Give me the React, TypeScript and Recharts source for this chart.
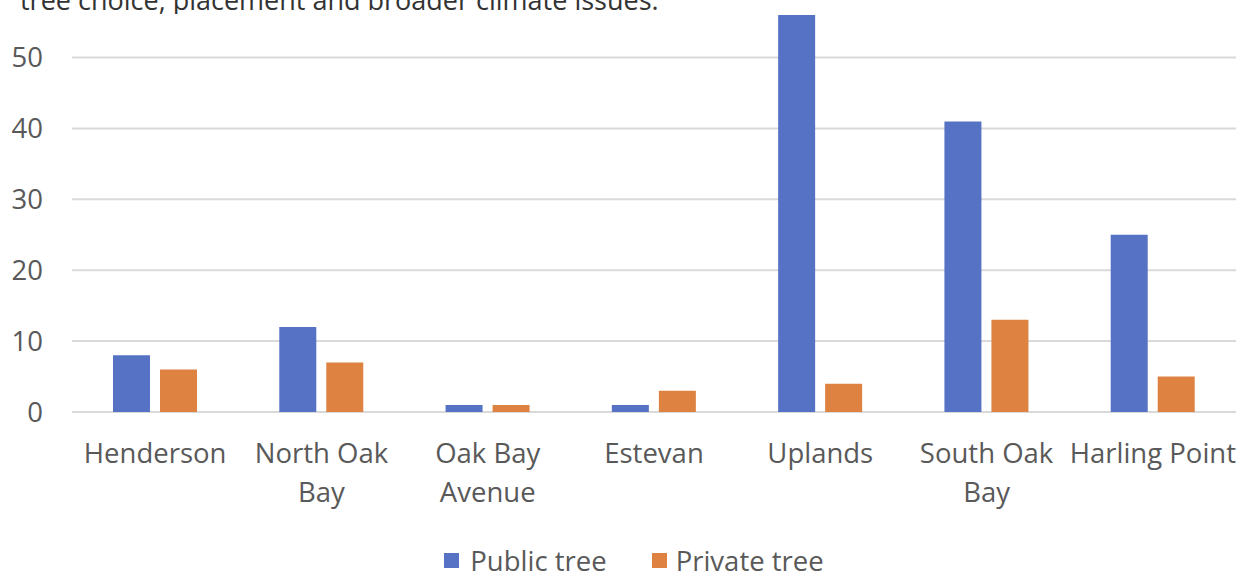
import React from "react";
import { BarChart, Bar, XAxis, YAxis, CartesianGrid } from "recharts";

const categories = ["Henderson", "North Oak Bay", "Oak Bay Avenue", "Estevan", "Uplands", "South Oak Bay", "Harling Point"];
const tickLines: string[][] = [["Henderson"], ["North Oak", "Bay"], ["Oak Bay", "Avenue"], ["Estevan"], ["Uplands"], ["South Oak", "Bay"], ["Harling Point"]];
const publicTree = [8, 12, 1, 1, 56, 41, 25];
const privateTree = [6, 7, 1, 3, 4, 13, 5];
const yTicks = [0, 10, 20, 30, 40, 50];
const seriesNames = ["Public tree", "Private tree"];
const topCaption = "tree choice, placement and broader climate issues.";

const BLUE = "#5572C4";
const ORANGE = "#DD8241";
const FONT = "'Open Sans', sans-serif";
const TEXT = "#595959";
const FS = 27.5;

const data = categories.map((c, i) => ({ name: c, pub: publicTree[i], priv: privateTree[i] }));

const XTick = (props: any) => {
  const { x, y, payload } = props;
  const idx = categories.indexOf(payload.value);
  const lines = idx >= 0 ? tickLines[idx] : [payload.value];
  return (
    <g>
      {lines.map((l, i) => (
        <text key={i} x={x} y={y + 51 + i * 39} textAnchor="middle" fill={TEXT} fontSize={FS} fontFamily={FONT}>
          {l}
        </text>
      ))}
    </g>
  );
};

export default function App() {
  return (
    <div style={{ position: "absolute", left: 0, top: 0, width: 1248, height: 573, background: "#fff", overflow: "hidden" }}>
      <div style={{ position: "absolute", left: 0, top: 0, width: 1248, height: 14, overflow: "hidden" }}>
        <div style={{ position: "absolute", left: 20, top: -19, fontFamily: FONT, fontSize: 27, color: "#333", whiteSpace: "nowrap", lineHeight: "normal" }}>
          {topCaption}
        </div>
      </div>
      <BarChart width={1248} height={573} data={data} margin={{ top: 8, right: 12, bottom: 0, left: 0 }} barGap={10} barCategoryGap={41}>
        <CartesianGrid vertical={false} horizontalValues={yTicks} stroke="#d9d9d9" strokeWidth={2} />
        <XAxis dataKey="name" axisLine={false} tickLine={false} tickSize={0} tickMargin={0} height={161} interval={0} tick={<XTick />} />
        <YAxis domain={[0, 57]} ticks={yTicks} allowDataOverflow axisLine={false} tickLine={false} tickSize={0} tickMargin={29} width={72} tick={{ fill: TEXT, fontSize: FS, fontFamily: FONT }} />
        <Bar dataKey="pub" name={seriesNames[0]} fill={BLUE} isAnimationActive={false} />
        <Bar dataKey="priv" name={seriesNames[1]} fill={ORANGE} isAnimationActive={false} />
      </BarChart>
      <div style={{ position: "absolute", left: 0, top: 546, width: 1248, height: 29, paddingLeft: 20, boxSizing: "border-box", display: "flex", justifyContent: "center", alignItems: "center", fontFamily: FONT, fontSize: FS, color: TEXT, lineHeight: "29px" }}>
        <span style={{ display: "inline-block", width: 15, height: 15, background: BLUE, marginRight: 11 }} />
        <span style={{ marginRight: 45 }}>{seriesNames[0]}</span>
        <span style={{ display: "inline-block", width: 15, height: 15, background: ORANGE, marginRight: 9 }} />
        <span>{seriesNames[1]}</span>
      </div>
    </div>
  );
}
